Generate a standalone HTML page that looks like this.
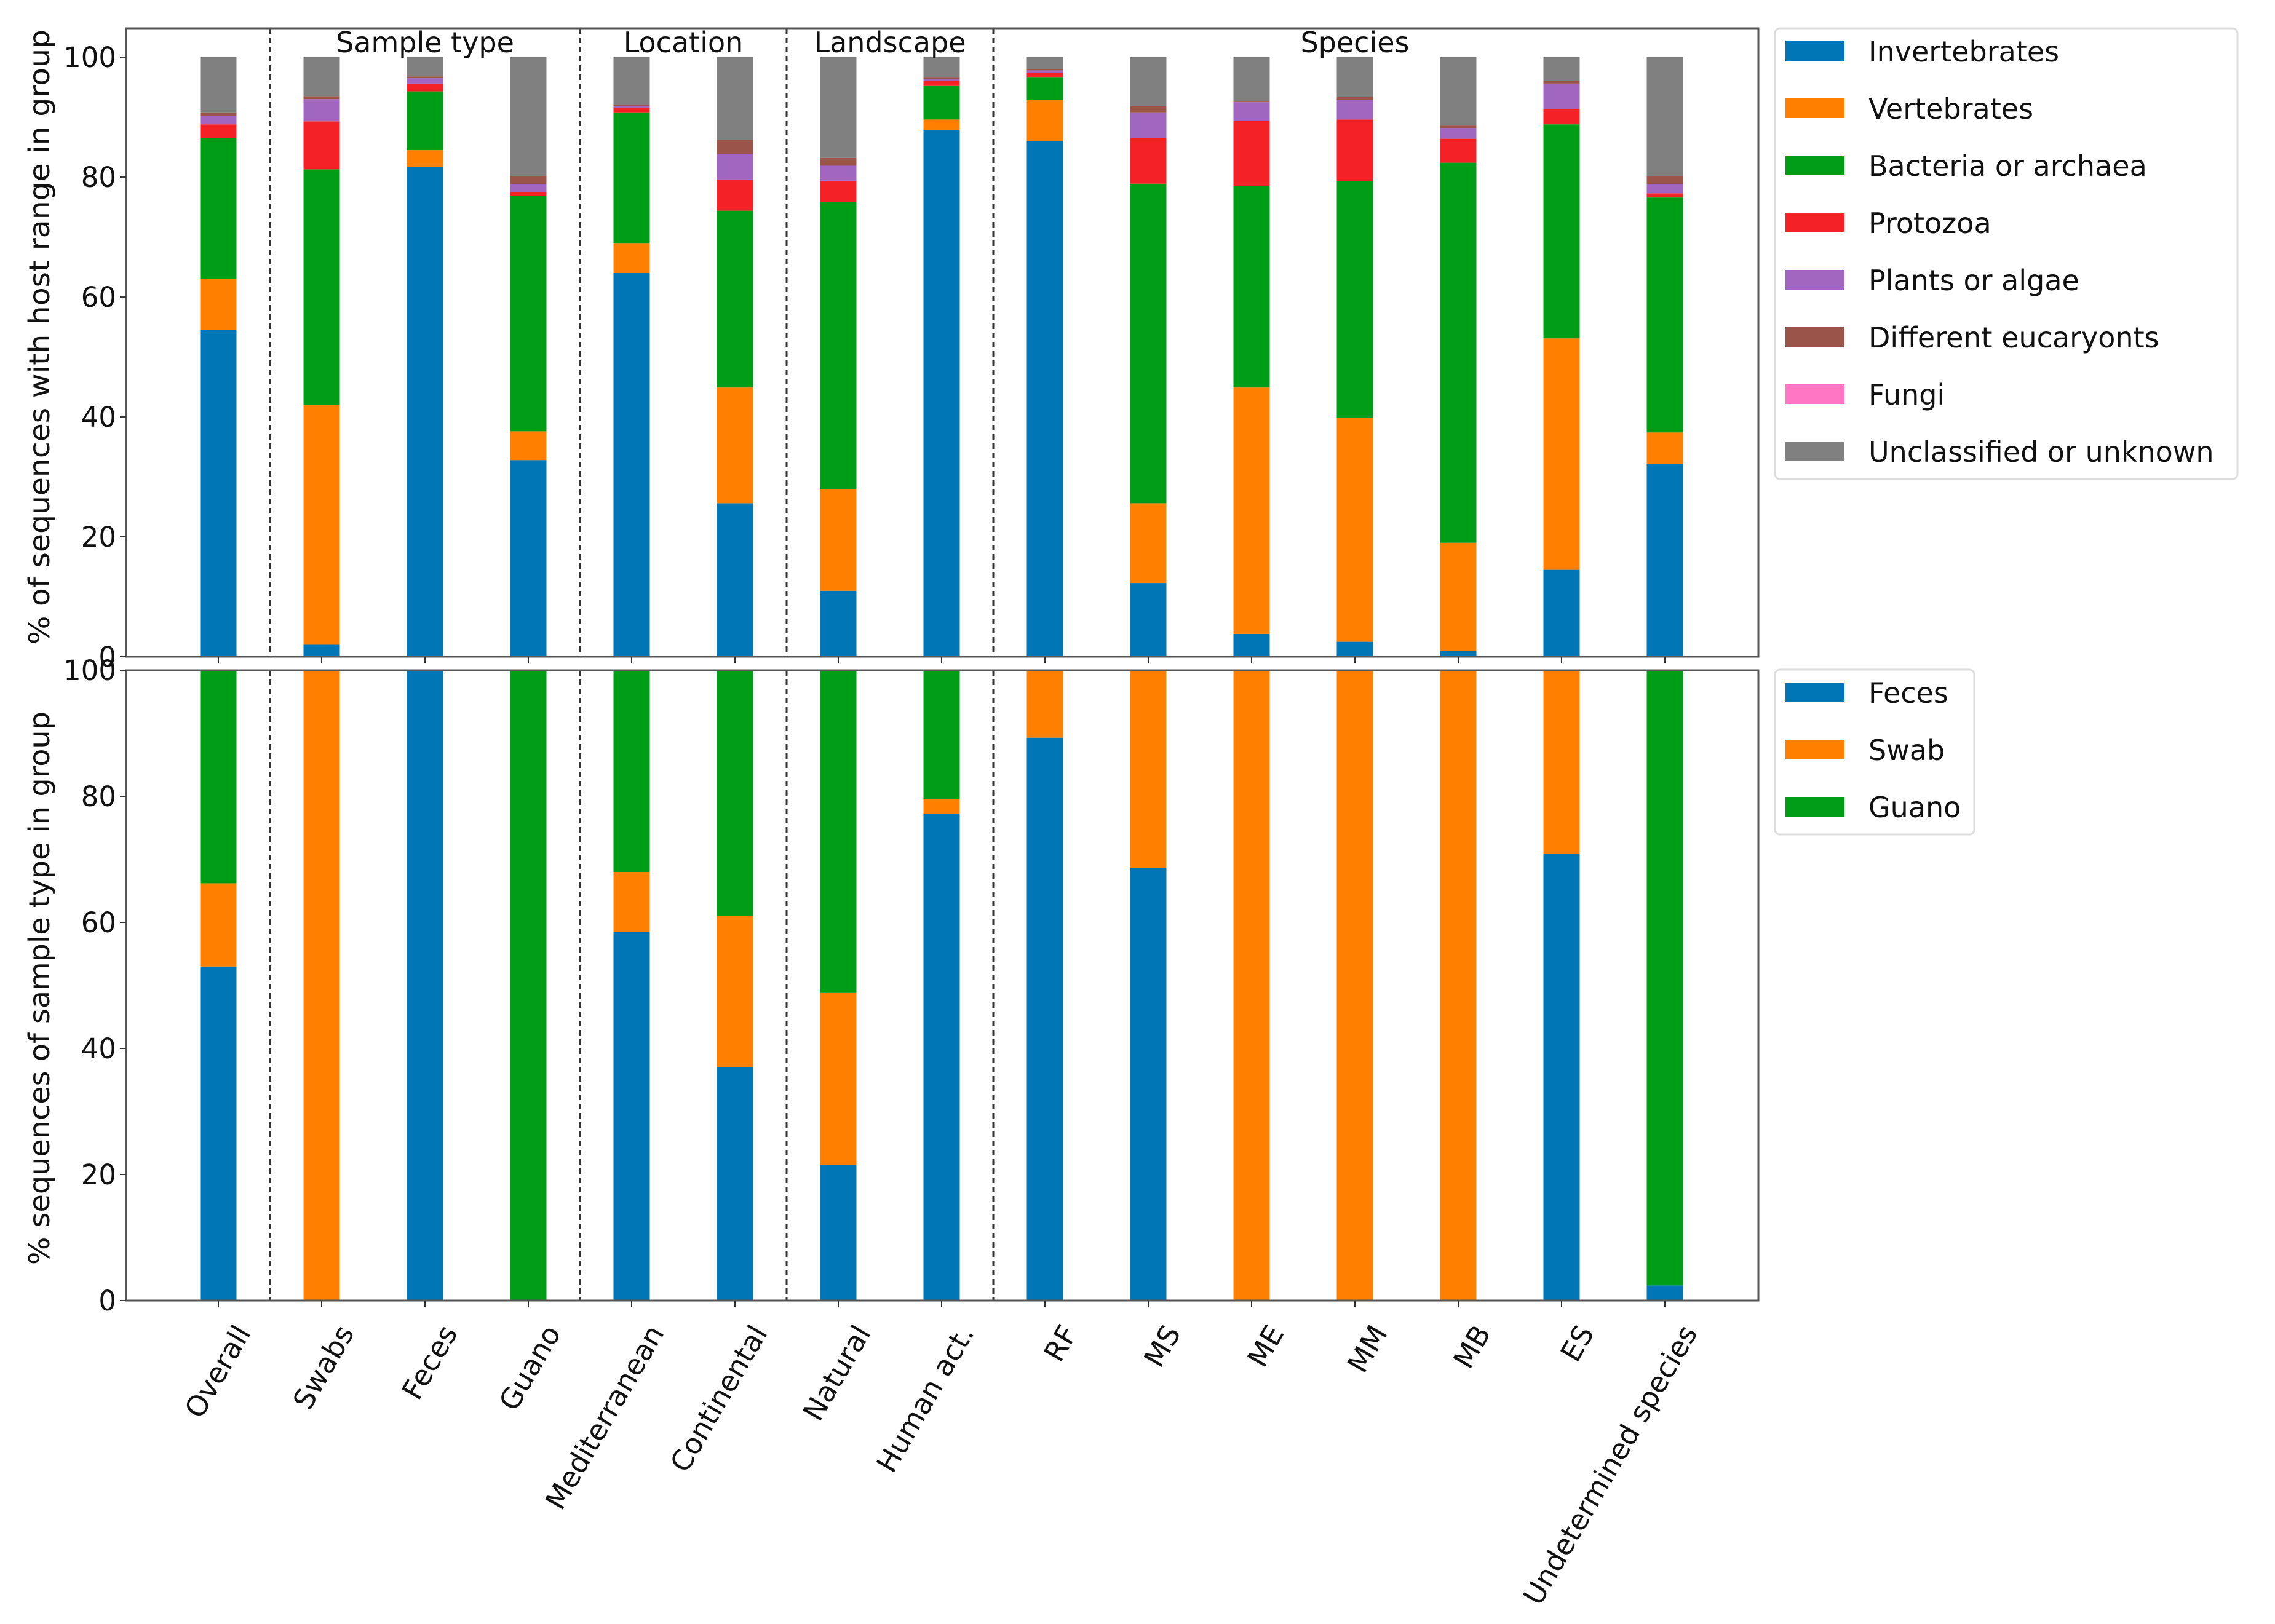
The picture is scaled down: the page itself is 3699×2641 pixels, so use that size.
<!DOCTYPE html>
<html><head><meta charset="utf-8">
<style>
html,body{margin:0;padding:0;background:#fff;}
svg{display:block;font-family:"DejaVu Sans","Liberation Sans",sans-serif;}
</style></head>
<body>
<svg id="chart" width="3699" height="2641" viewBox="0 0 3699 2641" xmlns="http://www.w3.org/2000/svg">
</svg>
<script>
// ---- data ----
const categories = ["Overall","Swabs","Feces","Guano","Mediterranean","Continental","Natural","Human act.","RF","MS","ME","MM","MB","ES","Undetermined species"];
const hostSeriesNames = ["Invertebrates","Vertebrates","Bacteria or archaea","Protozoa","Plants or algae","Different eucaryonts","Fungi","Unclassified or unknown"];
const invertebrates = [54.5,2,81.7,32.8,64,25.6,11,87.8,86,12.3,3.8,2.5,1,14.5,32.2];
const vertebrates   = [8.5,40,2.8,4.8,5,19.3,17,1.8,6.9,13.3,41.1,37.4,18,38.6,5.2];
const bacteria      = [23.5,39.3,9.8,39.3,21.8,29.5,47.8,5.6,3.7,53.3,33.6,39.4,63.4,35.7,39.2];
const protozoa      = [2.3,8,1.3,0.6,0.7,5.2,3.6,0.8,0.8,7.6,10.9,10.3,4,2.5,0.7];
const plants        = [1.4,3.7,0.9,1.3,0.3,4.2,2.5,0.4,0.4,4.3,3.1,3.3,1.8,4.3,1.5];
const eucaryonts    = [0.6,0.5,0.3,1.4,0.2,2.4,1.3,0.2,0.2,1,0.1,0.5,0.4,0.5,1.3];
const fungi         = [0,0,0,0,0,0,0,0,0,0,0,0,0,0,0];
const unclassified  = [9.2,6.5,3.2,19.8,8,13.8,16.8,3.4,2,8.2,7.4,6.6,11.4,3.9,19.9];
const sampleSeriesNames = ["Feces","Swab","Guano"];
const fecesShare = [53,0,100,0,58.5,37,21.5,77.2,89.3,68.6,0,0,0,70.9,2.4];
const swabShare  = [13.2,100,0,0,9.5,24,27.3,2.4,10.7,31.4,100,100,100,29.1,0];
const guanoShare = [33.8,0,0,100,32,39,51.2,20.4,0,0,0,0,0,0,97.6];
const yTicks = [0,20,40,60,80,100];
const groupLabels = ["Sample type","Location","Landscape","Species"];
const groupCenters = [2,4.5,6.5,11];
const separators = [0.5,3.5,5.5,7.5];

// ---- layout ----
const NS="http://www.w3.org/2000/svg";
const svg=document.getElementById('chart');
const hostColors=["#0076b6","#ff8000","#009e16","#f42226","#a066c0","#9b5449","#ff77c4","#808080"];
const sampleColors=["#0076b6","#ff8000","#009e16"];
const AX_L=205, AX_R=2859, BW=59;
const topPanel={y0:1068, y100:93, t:46};
const botPanel={y0:2115, y100:1090, t:1090};
function xPos(i){return 355+168*i;}
function yTop(v){return topPanel.y0-(topPanel.y0-topPanel.y100)*v/100;}
function yBot(v){return botPanel.y0-(botPanel.y0-botPanel.y100)*v/100;}
function mk(tag,attrs,parent){const e=document.createElementNS(NS,tag);for(const k in attrs)e.setAttribute(k,attrs[k]);(parent||svg).appendChild(e);return e;}

function drawPanel(seriesArr,colors,yf,panel,prefix){
  const g=mk('g',{});
  
  
  categories.forEach((c,i)=>{
    let cum=0;
    seriesArr.forEach((s,k)=>{
      const v=s[i];
      if(v>0){
        const r=mk('rect',{x:xPos(i)-BW/2,y:yf(cum+v),width:BW,height:yf(cum)-yf(cum+v),fill:colors[k]},g);
        
        
      }
      cum+=v;
    });
  });
  separators.forEach(s=>{
    const l=mk('line',{x1:xPos(s),x2:xPos(s),y1:panel.t,y2:panel.y0,stroke:"#333",'stroke-width':3,'stroke-dasharray':"9,6"});
    
    
  });
  const fr=mk('rect',{x:AX_L,y:panel.t,width:AX_R-AX_L,height:panel.y0-panel.t,fill:"none",stroke:"#555",'stroke-width':3});
  
  
  yTicks.forEach(t=>{
    mk('line',{x1:AX_L-10,x2:AX_L,y1:yf(t),y2:yf(t),stroke:"#333",'stroke-width':2});
    const tx=mk('text',{x:AX_L-16,y:yf(t)+16,'text-anchor':'end','font-size':45,fill:"#111"});
    tx.textContent=t;
    
    
  });
  categories.forEach((c,i)=>{mk('line',{x1:xPos(i),x2:xPos(i),y1:panel.y0,y2:panel.y0+10,stroke:"#333",'stroke-width':2});});
}
drawPanel([invertebrates,vertebrates,bacteria,protozoa,plants,eucaryonts,fungi,unclassified],hostColors,yTop,topPanel,'host-range');
drawPanel([fecesShare,swabShare,guanoShare],sampleColors,yBot,botPanel,'sample-type');

const yt1=mk('text',{x:0,y:0,'text-anchor':'middle','font-size':46,fill:"#111",transform:"translate(80,548) rotate(-90)",textLength:1000,lengthAdjust:"spacingAndGlyphs"});
yt1.textContent="% of sequences with host range in group";


const yt2=mk('text',{x:0,y:0,'text-anchor':'middle','font-size':46,fill:"#111",transform:"translate(80,1607) rotate(-90)",textLength:900,lengthAdjust:"spacingAndGlyphs"});
yt2.textContent="% sequences of sample type in group";



groupLabels.forEach((g,i)=>{
  const t=mk('text',{x:xPos(groupCenters[i]),y:85,'text-anchor':'middle','font-size':46,fill:"#111"});
  t.textContent=g;
  
  
});

categories.forEach((c,i)=>{
  const ax=xPos(i)+24, ay=2150;
  const t=mk('text',{x:ax,y:ay,'text-anchor':'end','font-size':46,fill:"#111",transform:`rotate(-60 ${ax} ${ay})`,dy:"0.75em"});
  t.textContent=c;
  
  
});

function legend(names,colors,x,y,w,prefix){
  const h=names.length*93-11;
  const box=mk('rect',{x:x,y:y,width:w,height:h,rx:8,fill:"#fff",stroke:"#ddd",'stroke-width':3});
  
  
  names.forEach((n,k)=>{
    const cy=y+37+k*93;
    const p=mk('rect',{x:x+17,y:cy-16,width:96,height:32,fill:colors[k]});
    
    
    const t=mk('text',{x:x+152,y:cy+17,'font-size':46,fill:"#111"});
    t.textContent=n;
    
    
  });
}
legend(hostSeriesNames,hostColors,2886,46,752,'host-range');
legend(sampleSeriesNames,sampleColors,2886,1089,324,'sample-type');
</script>
</body></html>
